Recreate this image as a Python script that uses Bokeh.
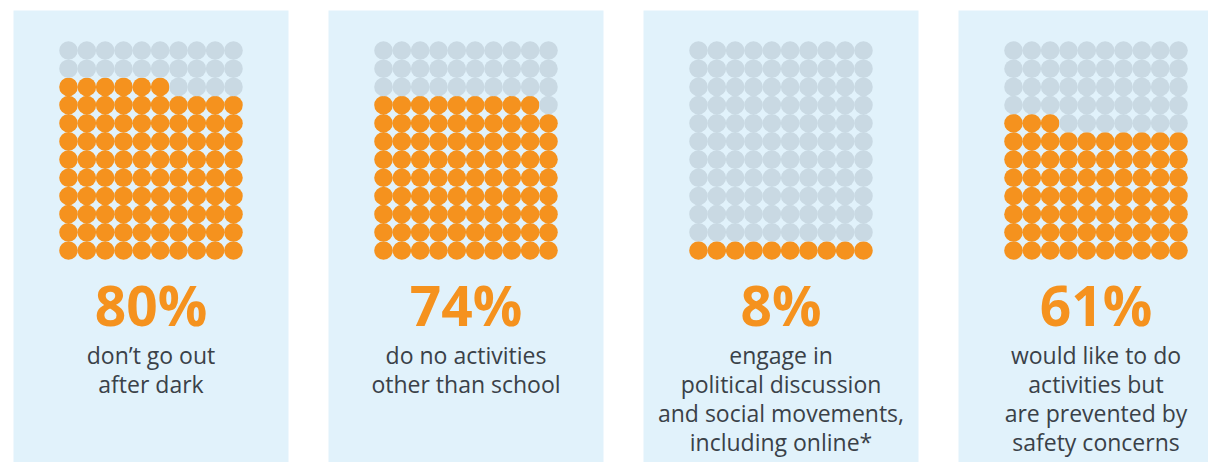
from bokeh.plotting import figure
from bokeh.models import Range1d
from bokeh.core.properties import value
from bokeh.embed import file_html
from bokeh.resources import INLINE

# ---- data ----
percent_labels = ["80%", "74%", "8%", "61%"]
filled_dots = [96, 89, 10, 73]          # orange dots out of 120 per panel
captions = [
    ["don’t go out", "after dark"],
    ["do no activities", "other than school"],
    ["engage in", "political discussion", "and social movements,", "including online*"],
    ["would like to do", "activities but", "are prevented by", "safety concerns"],
]
N_COLS, N_ROWS = 10, 12

# ---- layout (screen-pixel data coordinates) ----
W, H = 1208, 462
panel_left = [13, 328, 643, 958]
panel_w = 275
grid_x0 = 55
dx = 18.33
grid_bottom = 250
dy = 18.18

ORANGE = "#F5921E"
GREY = "#C9D9E3"
PANEL = "#E1F2FB"
TEXT = "#3A4148"
FONT = "Open Sans"

p = figure(width=W, height=H, x_range=Range1d(0, W), y_range=Range1d(H, 0),
           output_backend="svg", toolbar_location=None, min_border=0,
           x_axis_location=None, y_axis_location=None)
p.grid.visible = False
p.outline_line_color = None
p.background_fill_color = "white"
p.border_fill_color = "white"

p.quad(left=panel_left, right=[l + panel_w for l in panel_left], top=10, bottom=480,
       fill_color=PANEL, line_color=None)

xs, ys, cs = [], [], []
for i, left in enumerate(panel_left):
    for idx in range(N_COLS * N_ROWS):
        r = idx // N_COLS
        c = idx % N_COLS
        xs.append(left + grid_x0 + c * dx)
        ys.append(grid_bottom - r * dy)
        cs.append(ORANGE if idx < filled_dots[i] else GREY)
p.scatter(x=xs, y=ys, size=18.6, fill_color=cs, line_color=None)

centers = [l + panel_w / 2 for l in panel_left]
p.text(x=centers, y=[304] * 4, text=percent_labels, text_align="center",
       text_baseline="middle", text_color=ORANGE, text_font=value(FONT),
       text_font_size="55px", text_font_style="bold")

tx, ty, tt = [], [], []
for i, lines in enumerate(captions):
    for j, line in enumerate(lines):
        tx.append(centers[i])
        ty.append(354 + j * 29)
        tt.append(line)
p.text(x=tx, y=ty, text=tt, text_align="center", text_baseline="middle",
       text_color=TEXT, text_font=value(FONT), text_font_size="23px")

open("out.html", "w").write(file_html(p, INLINE))
